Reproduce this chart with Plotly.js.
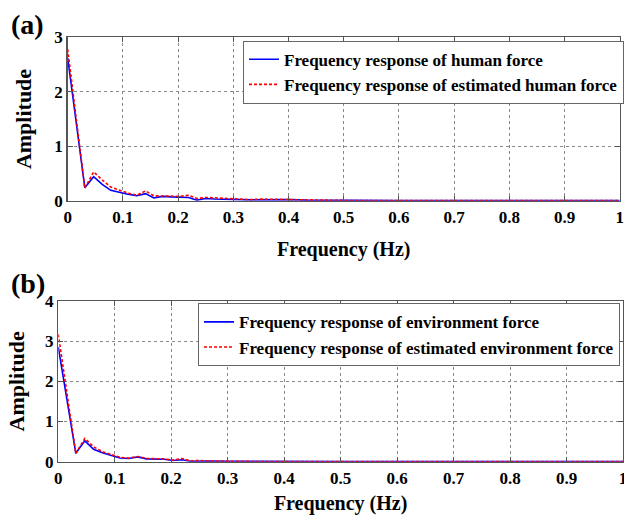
<!DOCTYPE html>
<html>
<head>
<meta charset="utf-8">
<script src="https://cdn.plot.ly/plotly-3.0.1.min.js"></script>
<style>html,body{margin:0;padding:0;background:#fff;}#chart{width:624px;height:515px;}</style>
</head>
<body>
<div id="chart"></div>
<script>
// Panel (a): human force
const freqA = [0, 0.031, 0.047, 0.0625, 0.078, 0.094, 0.109, 0.125, 0.141, 0.156, 0.172, 0.1875, 0.203, 0.219, 0.234, 0.25, 0.266, 0.281, 0.297, 0.313, 0.33, 0.35, 0.4, 0.43, 0.5, 0.6, 0.7, 0.8, 0.9, 1.0];
const humanForce = [2.62, 0.24, 0.44, 0.30, 0.19, 0.15, 0.12, 0.09, 0.13, 0.05, 0.08, 0.07, 0.07, 0.06, 0.01, 0.04, 0.03, 0.03, 0.02, 0.02, 0.015, 0.02, 0.02, 0.01, 0.005, 0.005, 0.005, 0.005, 0.005, 0.005];
const estHumanForce = [2.78, 0.23, 0.53, 0.38, 0.25, 0.19, 0.14, 0.10, 0.18, 0.09, 0.09, 0.08, 0.08, 0.10, 0.04, 0.06, 0.05, 0.04, 0.03, 0.02, 0.02, 0.03, 0.02, 0.01, 0.005, 0.005, 0.005, 0.005, 0.005, 0.005];

// Panel (b): environment force
const freqB = [0, 0.031, 0.047, 0.0625, 0.078, 0.094, 0.109, 0.125, 0.141, 0.156, 0.172, 0.1875, 0.203, 0.219, 0.234, 0.25, 0.266, 0.3, 0.35, 0.4, 0.5, 0.6, 0.7, 0.8, 0.9, 1.0];
const envForce = [2.85, 0.21, 0.52, 0.31, 0.22, 0.15, 0.09, 0.08, 0.12, 0.07, 0.06, 0.06, 0.03, 0.05, 0.01, 0.02, 0.015, 0.01, 0.005, 0.005, 0.005, 0.005, 0.005, 0.005, 0.005, 0.005];
const estEnvForce = [3.17, 0.21, 0.58, 0.37, 0.25, 0.17, 0.11, 0.09, 0.13, 0.08, 0.07, 0.07, 0.04, 0.08, 0.02, 0.03, 0.02, 0.01, 0.005, 0.005, 0.005, 0.005, 0.005, 0.005, 0.005, 0.005];

const xTicks = [0, 0.1, 0.2, 0.3, 0.4, 0.5, 0.6, 0.7, 0.8, 0.9, 1];
const xTickText = ['0', '0.1', '0.2', '0.3', '0.4', '0.5', '0.6', '0.7', '0.8', '0.9', '1'];

const serif = 'Liberation Serif';
const W = 624, H = 515;
const px = v => v / W;
const py = v => 1 - v / H;

const traces = [
  {x: freqA, y: humanForce, name: 'Frequency response of human force', xaxis: 'x', yaxis: 'y', mode: 'lines', line: {color: '#0000ff', width: 1.6}, legend: 'legend'},
  {x: freqA, y: estHumanForce, name: 'Frequency response of estimated human force', xaxis: 'x', yaxis: 'y', mode: 'lines', line: {color: '#ff0000', width: 1.6, dash: '3px,2px'}, legend: 'legend'},
  {x: freqB, y: envForce, name: 'Frequency response of environment force', xaxis: 'x2', yaxis: 'y2', mode: 'lines', line: {color: '#0000ff', width: 1.6}, legend: 'legend2'},
  {x: freqB, y: estEnvForce, name: 'Frequency response of estimated environment force', xaxis: 'x2', yaxis: 'y2', mode: 'lines', line: {color: '#ff0000', width: 1.6, dash: '3px,2px'}, legend: 'legend2'}
];

const axisCommon = {
  showline: true, mirror: 'ticks', linecolor: '#555', linewidth: 1.5,
  ticks: 'inside', ticklen: 5, tickcolor: '#555',
  showgrid: true, gridcolor: '#888', griddash: 'dot', gridwidth: 1,
  zeroline: false, ticklabeloverflow: 'allow',
  tickfont: {family: serif, size: 17, color: '#000', weight: 'bold'}
};

const legendCommon = {
  bgcolor: '#fff', bordercolor: '#666', borderwidth: 1,
  font: {family: serif, size: 17, color: '#000', weight: 'bold'},
  xanchor: 'left', yanchor: 'top', tracegroupgap: 0, itemwidth: 30
};

const layout = {
  width: W, height: H,
  margin: {l: 0, r: 0, t: 0, b: 0},
  paper_bgcolor: '#fff', plot_bgcolor: '#fff',
  showlegend: true,
  xaxis: Object.assign({}, axisCommon, {domain: [px(67.7), px(619.7)], range: [0, 1], tickvals: xTicks, ticktext: xTickText, anchor: 'y',
    title: {text: 'Frequency (Hz)', font: {family: serif, size: 20, color: '#000', weight: 'bold'}, standoff: 16}}),
  yaxis: Object.assign({}, axisCommon, {domain: [py(200.7), py(37.3)], range: [0, 3], dtick: 1, anchor: 'x',
    title: {text: 'Amplitude', font: {family: serif, size: 22, color: '#000', weight: 'bold'}, standoff: 16}}),
  xaxis2: Object.assign({}, axisCommon, {domain: [px(58.3), px(623)], range: [0, 1], tickvals: xTicks, ticktext: xTickText, anchor: 'y2',
    title: {text: 'Frequency (Hz)', font: {family: serif, size: 20, color: '#000', weight: 'bold'}, standoff: 15}}),
  yaxis2: Object.assign({}, axisCommon, {domain: [py(461.7), py(301)], range: [0, 4], dtick: 1, anchor: 'x2',
    title: {text: 'Amplitude', font: {family: serif, size: 22, color: '#000', weight: 'bold'}, standoff: 14}}),
  legend: Object.assign({}, legendCommon, {x: px(243), y: py(40.7)}),
  legend2: Object.assign({}, legendCommon, {x: px(198), y: py(303.3)}),
  annotations: [
    {text: '(a)', xref: 'paper', yref: 'paper', x: px(9), y: py(24), xanchor: 'left', yanchor: 'middle', showarrow: false,
     font: {family: serif, size: 28, color: '#000', weight: 'bold'}},
    {text: '(b)', xref: 'paper', yref: 'paper', x: px(9), y: py(283), xanchor: 'left', yanchor: 'middle', showarrow: false,
     font: {family: serif, size: 28, color: '#000', weight: 'bold'}}
  ]
};

Plotly.newPlot('chart', traces, layout, {displayModeBar: false, staticPlot: true});
</script>
</body>
</html>
